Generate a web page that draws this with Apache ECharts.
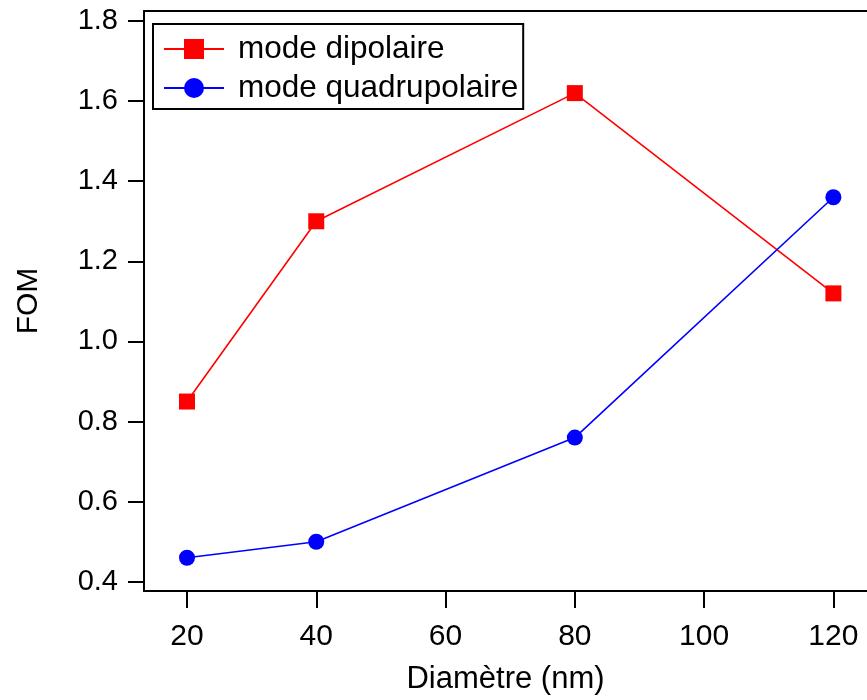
<!DOCTYPE html>
<html><head><meta charset="utf-8">
<script src="https://cdn.jsdelivr.net/npm/echarts@6/dist/echarts.min.js"></script>
<style>html,body{margin:0;padding:0;background:#fff}#c{width:867px;height:700px}</style>
</head><body><div id="c"></div>
<script>
const diameters = [20, 40, 80, 120];
const dipolaire = [0.85, 1.30, 1.62, 1.12];
const quadrupolaire = [0.46, 0.50, 0.76, 1.36];
const xTicks = [20, 40, 60, 80, 100, 120];
const yTicks = [0.4, 0.6, 0.8, 1.0, 1.2, 1.4, 1.6, 1.8];
const seriesNames = ['mode dipolaire', 'mode quadrupolaire'];

const FONT = 'Liberation Sans, Arial, sans-serif';
const chart = echarts.init(document.getElementById('c'), null, {renderer: 'canvas'});
const axisLine = {show: true, onZero: false, lineStyle: {color: '#000', width: 2}};
chart.setOption({
  animation: false,
  grid: {left: 144, right: 0, top: 11, bottom: 109, containLabel: false},
  legend: {
    orient: 'vertical', left: 153, top: 24,
    data: seriesNames,
    borderColor: '#000', borderWidth: 2, backgroundColor: '#fff',
    padding: [8, 5, 4, 10], itemGap: 5,
    itemWidth: 60, itemHeight: 25,
    textStyle: {fontFamily: FONT, fontSize: 31.5, color: '#000', lineHeight: 34, padding: [0, 0, 0, 9]}
  },
  xAxis: [{
    type: 'value', min: 13.35, max: 125.2,
    axisLine: axisLine,
    axisTick: {show: true, inside: false, length: 17, lineStyle: {color: '#000', width: 2}, customValues: xTicks},
    axisLabel: {fontFamily: FONT, fontSize: 30, color: '#000', margin: 31, customValues: xTicks, formatter: v => String(v)},
    splitLine: {show: false},
    name: 'Diamètre (nm)', nameLocation: 'middle', nameGap: 73,
    nameTextStyle: {fontFamily: FONT, fontSize: 31, color: '#000'}
  }, {
    type: 'value', position: 'top', min: 13.35, max: 125.2,
    axisLine: axisLine, axisTick: {show: false}, axisLabel: {show: false}, splitLine: {show: false}
  }],
  yAxis: {
    type: 'value', min: 0.377, max: 1.825,
    axisLine: axisLine,
    axisTick: {show: true, inside: false, length: 16, lineStyle: {color: '#000', width: 2}, customValues: yTicks},
    axisLabel: {fontFamily: FONT, fontSize: 29, color: '#000', margin: 26, customValues: yTicks, formatter: v => v.toFixed(1)},
    splitLine: {show: false},
    name: 'FOM', nameLocation: 'middle', nameGap: 100,
    nameTextStyle: {fontFamily: FONT, fontSize: 30, color: '#000'}
  },
  series: [{
    name: seriesNames[0], type: 'line',
    data: diameters.map((d, i) => [d, dipolaire[i]]),
    symbol: 'rect', symbolSize: 16,
    lineStyle: {color: '#ff0000', width: 1.6},
    itemStyle: {color: '#ff0000'}
  }, {
    name: seriesNames[1], type: 'line',
    data: diameters.map((d, i) => [d, quadrupolaire[i]]),
    symbol: 'circle', symbolSize: 16,
    lineStyle: {color: '#0000ff', width: 1.6},
    itemStyle: {color: '#0000ff'}
  }]
});
</script></body></html>
